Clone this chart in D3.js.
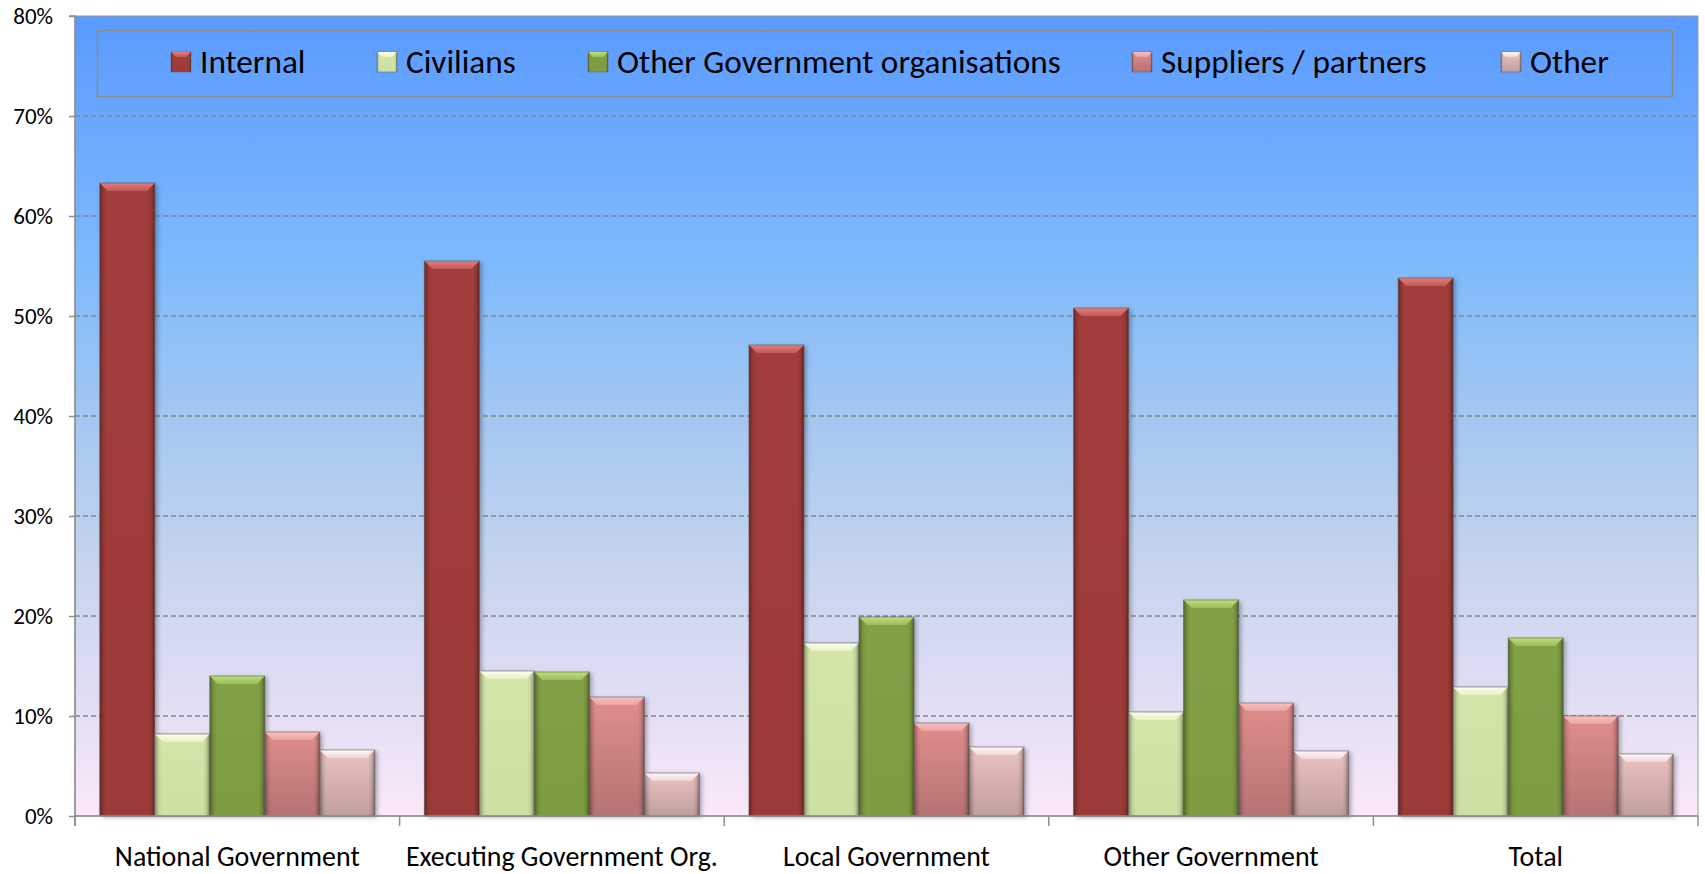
<!DOCTYPE html>
<html>
<head>
<meta charset="utf-8">
<script src="https://cdn.jsdelivr.net/npm/d3@7"></script>
<style>
  body { margin: 0; background: #fff; }
  text { font-family: Carlito, Calibri, Lato, "Noto Sans", sans-serif; fill: #000; }
</style>
</head>
<body>
<div id="chart"></div>
<script>
// data (percent)
const categories = ["National Government", "Executing Government Org.", "Local Government", "Other Government", "Total"];
const seriesNames = ["Internal", "Civilians", "Other Government organisations", "Suppliers / partners", "Other"];
const internal  = [63.3, 55.5, 47.1, 50.8, 53.8];
const civilians = [8.2, 14.5, 17.3, 10.4, 12.9];
const otherGov  = [14.0, 14.4, 19.9, 21.6, 17.8];
const suppliers = [8.4, 11.9, 9.3, 11.3, 10.0];
const other     = [6.6, 4.3, 6.9, 6.5, 6.2];
const yTicks = [0, 10, 20, 30, 40, 50, 60, 70, 80];

const seriesValues = [internal, civilians, otherGov, suppliers, other];

// bar styles: body top, body bottom, bevel colour
const styles = [
    { top: "#a23d3b", bottom: "#9c3a38", bevel: "#e47d7b" },
    { top: "#d3e5a9", bottom: "#cde0a3", bevel: "#fdffea" },
    { top: "#82a045", bottom: "#7d9b41", bevel: "#bde078" },
    { top: "#e08e8d", bottom: "#b57373", bevel: "#fac0be" },
    { top: "#ebc2c2", bottom: "#c19f9f", bevel: "#fff6f6" }
];

const W = 1705, H = 874;
const plot = { left: 75, right: 1698, top: 16, bottom: 816 };

const svg = d3.select("#chart").append("svg")
    .attr("width", W)
    .attr("height", H);

const defs = svg.append("defs");

// plot background gradient
const bg = defs.append("linearGradient").attr("id", "bg")
    .attr("x1", 0).attr("y1", 0).attr("x2", 0).attr("y2", 1);
[[0, "#5a9aff"], [0.3, "#7cb9fc"], [0.5, "#a3c7f1"], [0.7, "#c8d5ee"], [0.85, "#e0def4"], [1, "#fbe8fa"]]
    .forEach(s => bg.append("stop").attr("offset", s[0]).attr("stop-color", s[1]));

// side shading overlay for bars
const side = defs.append("linearGradient").attr("id", "side")
    .attr("x1", 0).attr("y1", 0).attr("x2", 1).attr("y2", 0);
[[0, 0.35], [0.07, 0.08], [0.12, 0], [0.88, 0], [0.94, 0.1], [1, 0.4]]
    .forEach(s => side.append("stop").attr("offset", s[0]).attr("stop-color", "#000").attr("stop-opacity", s[1]));

styles.forEach((s, i) => {
    const g = defs.append("linearGradient").attr("id", "body" + i)
        .attr("x1", 0).attr("y1", 0).attr("x2", 0).attr("y2", 1);
    g.append("stop").attr("offset", 0).attr("stop-color", s.top);
    g.append("stop").attr("offset", 1).attr("stop-color", s.bottom);
    const b = defs.append("linearGradient").attr("id", "bevel" + i)
        .attr("x1", 0).attr("y1", 0).attr("x2", 0).attr("y2", 1);
    b.append("stop").attr("offset", 0).attr("stop-color", s.bevel);
    b.append("stop").attr("offset", 1).attr("stop-color", s.bevel).attr("stop-opacity", 0.45);
});

const shadow = defs.append("filter").attr("id", "shadow")
    .attr("x", "-20%").attr("y", "-5%").attr("width", "150%").attr("height", "115%");
shadow.append("feDropShadow")
    .attr("dx", 2.5).attr("dy", 1.5).attr("stdDeviation", 2)
    .attr("flood-color", "#000").attr("flood-opacity", 0.3);

// scales
const y = d3.scaleLinear().domain([0, 80]).range([plot.bottom, plot.top]);
const x0 = d3.scaleBand().domain(categories).range([plot.left, plot.right]).padding(0);
const x1 = d3.scaleBand().domain(d3.range(seriesNames.length))
    .range([0, x0.bandwidth()]).paddingInner(0).paddingOuter(0.45);

// background
svg.append("rect")
    .attr("x", plot.left).attr("y", plot.top)
    .attr("width", plot.right - plot.left).attr("height", plot.bottom - plot.top)
    .attr("fill", "url(#bg)")
    .attr("stroke", "#9a9a9a").attr("stroke-width", 1);

// gridlines
svg.append("g").selectAll("line")
    .data(yTicks.filter(d => d > 0 && d < 80))
    .join("line")
    .attr("x1", plot.left).attr("x2", plot.right)
    .attr("y1", d => y(d)).attr("y2", d => y(d))
    .attr("stroke", "#878787").attr("stroke-width", 1.3)
    .attr("stroke-dasharray", "5,3");

// legend
const legend = svg.append("g");
legend.append("rect")
    .attr("x", 97.5).attr("y", 30.5).attr("width", 1575).attr("height", 66)
    .attr("fill", "none").attr("stroke", "#8a8a8a").attr("stroke-width", 1.5);
const legendX = [171, 377, 588, 1132, 1501];
const items = legend.selectAll("g.item")
    .data(seriesNames)
    .join("g").attr("class", "item")
    .attr("transform", (d, i) => `translate(${legendX[i]},52)`);
items.append("rect")
    .attr("width", 20).attr("height", 20)
    .attr("fill", (d, i) => `url(#body${i})`)
    .attr("stroke", "#6b6b6b").attr("stroke-opacity", 0.6);
items.append("path")
    .attr("d", "M0,0H20L15,5H5Z")
    .attr("fill", (d, i) => `url(#bevel${i})`);
items.append("rect")
    .attr("width", 20).attr("height", 20)
    .attr("fill", "url(#side)");
const legendText = items.append("text")
    .attr("x", 29).attr("y", 21)
    .style("font-size", "33px")
    .text(d => d);
// fit the legend font so the long label matches the reference width
const longW = legendText.nodes()[2].getComputedTextLength();
legendText.style("font-size", (33 * 444 / longW) + "px");

// bars
const groups = svg.append("g").selectAll("g")
    .data(categories)
    .join("g")
    .attr("transform", d => `translate(${x0(d)},0)`);

const bars = groups.selectAll("g.bar")
    .data((c, ci) => seriesValues.map((vals, si) => ({ si, v: vals[ci] })))
    .join("g").attr("class", "bar");

bars.append("rect")
    .attr("x", d => x1(d.si))
    .attr("y", d => y(d.v))
    .attr("width", x1.bandwidth())
    .attr("height", d => y(0) - y(d.v))
    .attr("fill", d => `url(#body${d.si})`)
    .attr("filter", "url(#shadow)");
bars.append("rect")
    .attr("x", d => x1(d.si))
    .attr("y", d => y(d.v))
    .attr("width", x1.bandwidth())
    .attr("height", d => y(0) - y(d.v))
    .attr("fill", "url(#side)");
bars.append("path")
    .attr("d", d => {
        const bx = x1(d.si), by = y(d.v), bw = x1.bandwidth(), b = 8;
        return `M${bx},${by}H${bx + bw}L${bx + bw - b},${by + b}H${bx + b}Z`;
    })
    .attr("fill", d => `url(#bevel${d.si})`);
bars.append("rect")
    .attr("x", d => x1(d.si))
    .attr("y", d => y(d.v))
    .attr("width", x1.bandwidth())
    .attr("height", d => y(0) - y(d.v))
    .attr("fill", "none")
    .attr("stroke", "#555").attr("stroke-opacity", 0.55).attr("stroke-width", 1);

// y axis
const yAxis = svg.append("g")
    .attr("transform", `translate(${plot.left},0)`)
    .call(d3.axisLeft(y).tickValues(yTicks).tickSize(6).tickPadding(16).tickFormat(d => d + "%"));
yAxis.select(".domain").attr("stroke", "#8e8e8e").attr("stroke-width", 1.5)
    .attr("d", `M-6,${plot.top}H0V${plot.bottom + 10}`);
yAxis.selectAll(".tick line").attr("stroke", "#8e8e8e").attr("stroke-width", 1.5);
yAxis.selectAll(".tick text")
    .style("font-size", "23px")
    .style("font-family", "Carlito, Calibri, Lato, sans-serif")
    .attr("fill", "#000");

// x axis
const xAxis = svg.append("g")
    .attr("transform", `translate(0,${plot.bottom})`)
    .call(d3.axisBottom(x0).tickSize(0).tickPadding(50));
xAxis.select(".domain").attr("stroke", "#8e8e8e").attr("stroke-width", 1.5)
    .attr("d", `M${plot.left},0H${plot.right}`);
xAxis.append("g").selectAll("line")
    .data(categories.map(c => x0(c)).concat([plot.right]))
    .join("line")
    .attr("x1", d => d).attr("x2", d => d)
    .attr("y1", 0).attr("y2", 10)
    .attr("stroke", "#8e8e8e").attr("stroke-width", 1.5);
const catText = xAxis.selectAll(".tick text")
    .style("font-size", "28px")
    .style("font-family", "Carlito, Calibri, Lato, sans-serif")
    .attr("fill", "#000")
    .attr("dy", "0");
const natW = catText.nodes()[0].getComputedTextLength();
catText.style("font-size", (28 * 245 / natW) + "px");
</script>
</body>
</html>
